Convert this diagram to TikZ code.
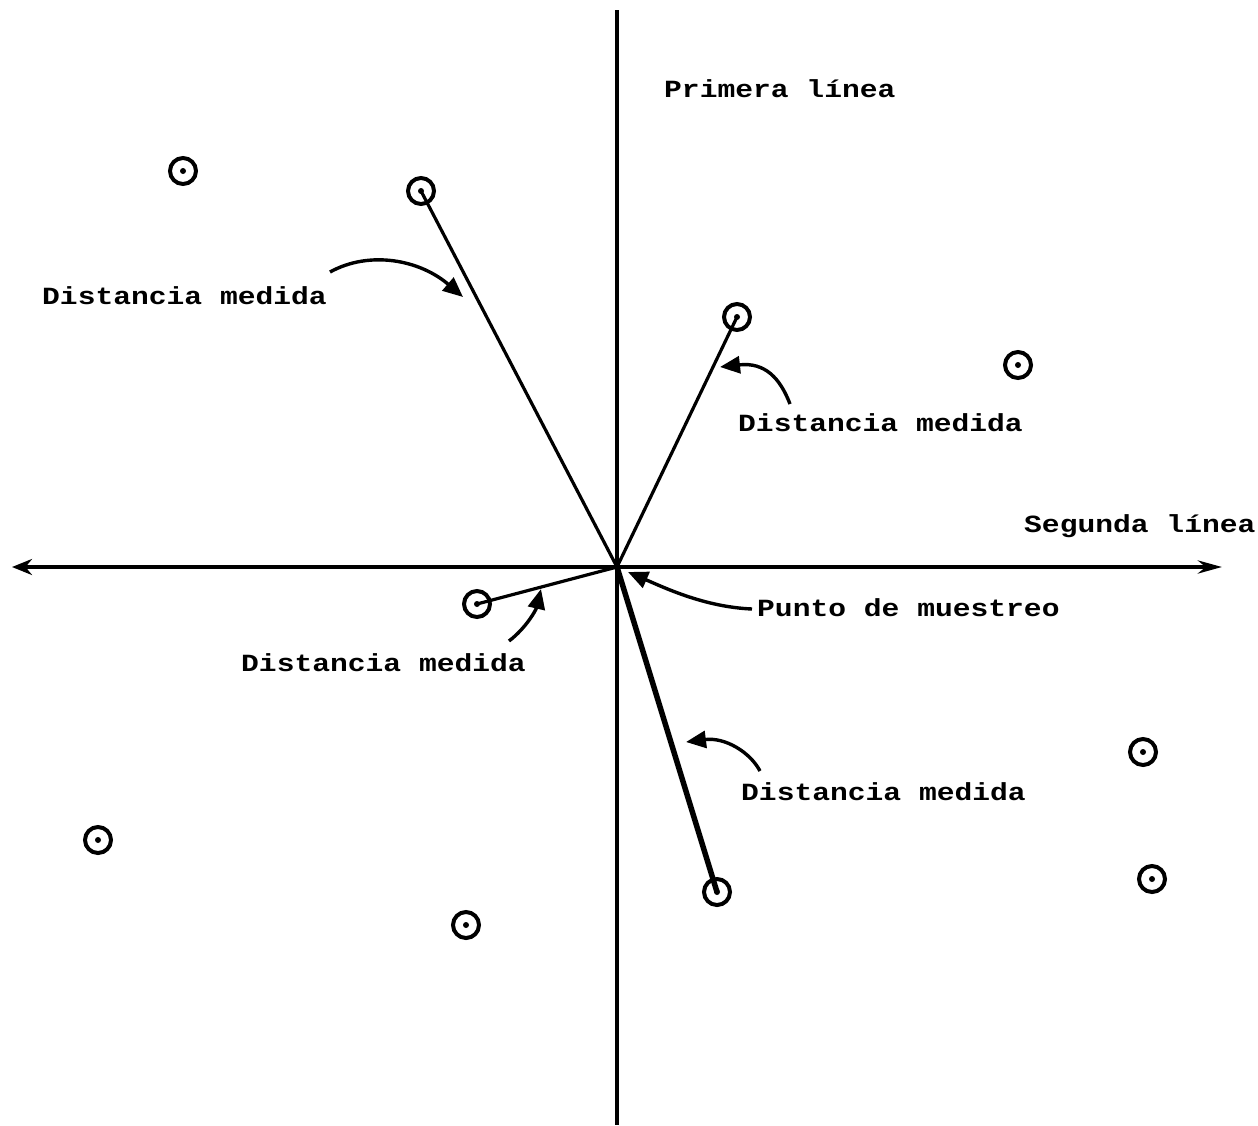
\documentclass[tikz,border=0pt]{standalone}
\usepackage{fontspec}
\setmainfont{Liberation Mono}[FakeStretch=1.2]
\usetikzlibrary{arrows.meta}
\begin{document}
\begin{tikzpicture}[x=1pt,y=-1pt,
  lbl/.style={anchor=base west, inner sep=0pt, font=\fontsize{24.7}{28}\selectfont\bfseries},
  tree/.style={circle, draw, line width=4pt, minimum size=26pt, inner sep=0pt,
    path picture={\fill (path picture bounding box.center) circle (3pt);}},
  axis/.style={line width=4.5pt},
  ray/.style={line width=3.2pt},
  pointer/.style={line width=3.4pt, -{Triangle[length=20pt,width=17pt]}}]
\useasboundingbox (0,0) rectangle (1258,1125);
% axes
\coordinate (c) at (617,567);
\coordinate (top) at (617,10);
\coordinate (bot) at (617,1125);
\coordinate (west) at (12,567);
\coordinate (east) at (1222,567);
\draw[axis] (c) -- (top);
\draw[axis] (c) -- (bot);
\draw[axis, -{Stealth[length=20pt,width=16pt]}] (c) -- (west);
\draw[axis, -{Stealth[length=24pt,width=13pt]}] (c) -- (east);
% trees
\node[tree] (t1) at (183,171) {};
\node[tree] (t2) at (421,191) {};
\node[tree] (t3) at (737,317) {};
\node[tree] (t4) at (1018,365) {};
\node[tree] (t5) at (477,604) {};
\node[tree] (t6) at (1143,752) {};
\node[tree] (t7) at (98,840) {};
\node[tree] (t8) at (717,892) {};
\node[tree] (t9) at (1152,879) {};
\node[tree] (t10) at (466,925) {};
% measured distances
\draw[ray] (c) -- (t2.center);
\draw[ray] (c) -- (t3.center);
\draw[ray] (c) -- (t5.center);
\draw[ray, line width=5.5pt] (c) -- (t8.center);
% labels
\node[lbl] (l0) at (664,97) {Primera línea};
\node[lbl] (l1) at (42,304) {Distancia medida};
\node[lbl] (l2) at (738,431) {Distancia medida};
\node[lbl] (l3) at (1024,532) {Segunda línea};
\node[lbl] (l4) at (757,616) {Punto de muestreo};
\node[lbl] (l5) at (241,671) {Distancia medida};
\node[lbl] (l6) at (741,800) {Distancia medida};
% pointer arrows
\coordinate (a1s) at (330,272); \coordinate (a1e) at (463,297);
\draw[pointer] (a1s) .. controls (370,250) and (420,260) .. (a1e);
\coordinate (a2s) at (790,404); \coordinate (a2e) at (720,367);
\draw[pointer] (a2s) .. controls (780,378) and (765,362) .. (a2e);
\coordinate (a3s) at (752,609); \coordinate (a3e) at (628,572);
\draw[pointer] (a3s) .. controls (705,607) and (665,588) .. (a3e);
\coordinate (a4s) at (509,641); \coordinate (a4e) at (541,589);
\draw[pointer] (a4s) .. controls (526,628) and (536,610) .. (a4e);
\coordinate (a5s) at (760,771); \coordinate (a5e) at (686,742);
\draw[pointer] (a5s) .. controls (750,752) and (725,737) .. (a5e);
\end{tikzpicture}
\end{document}
